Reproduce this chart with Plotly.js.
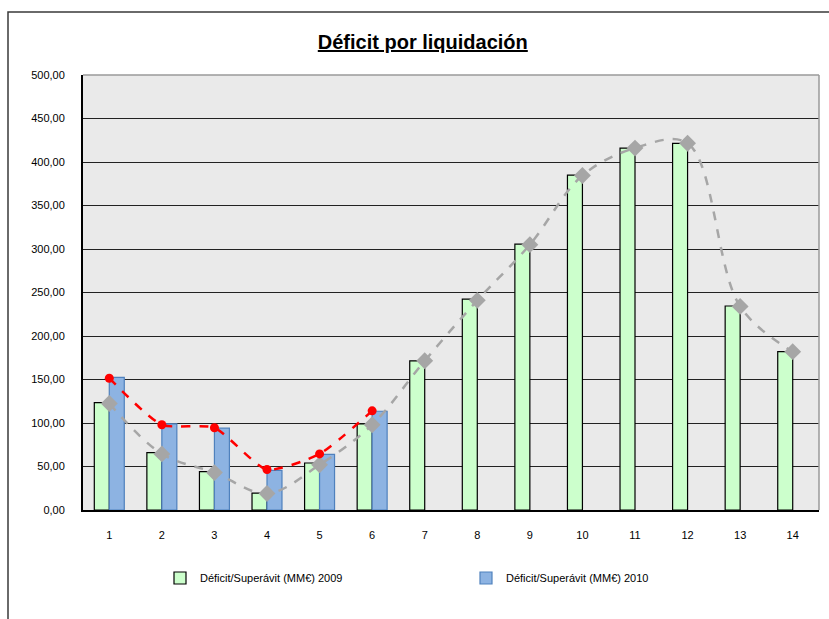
<!DOCTYPE html>
<html>
<head>
<meta charset="utf-8">
<script src="https://cdn.plot.ly/plotly-3.0.1.min.js"></script>
<style>html,body{margin:0;padding:0;background:#fff;}</style>
</head>
<body>
<div id="chart" style="width:829px;height:619px;"></div>
<script>
const categories = ["1","2","3","4","5","6","7","8","9","10","11","12","13","14"];
const deficit2009 = [123.5, 66, 44, 19.5, 54, 99, 171.5, 242.5, 305.5, 385, 416, 421.5, 234.5, 182];
const deficit2010 = [152.5, 99, 94, 45.5, 64, 113.5];
const line2009 = [122.5, 64.5, 43, 19, 52, 98, 171.5, 241, 305, 384.5, 416, 421.5, 234, 182];
const line2010 = [151.5, 98, 94.5, 46.5, 64.5, 114];
const yTicks = [0, 50, 100, 150, 200, 250, 300, 350, 400, 450, 500];
const seriesNames = ["Déficit/Superávit (MM€) 2009", "Déficit/Superávit (MM€) 2010"];
const titleText = "Déficit por liquidación";

const font = "Liberation Sans, Arial, sans-serif";

const traces = [
  {
    type: "bar", name: seriesNames[0], x: categories, y: deficit2009,
    marker: {color: "#CCFFCC", line: {color: "#000000", width: 1.2}},
    hoverinfo: "y"
  },
  {
    type: "bar", name: seriesNames[1], x: categories.slice(0, deficit2010.length), y: deficit2010,
    marker: {color: "#8DB3E2", line: {color: "#4F81BD", width: 1.2}},
    hoverinfo: "y"
  },
  {
    type: "scatter", mode: "lines+markers", x: categories, y: line2009, showlegend: false,
    line: {color: "#A6A6A6", width: 2.5, dash: "dash", shape: "spline", smoothing: 1},
    marker: {symbol: "diamond", size: 13, color: "#A6A6A6"}
  },
  {
    type: "scatter", mode: "lines+markers", x: categories.slice(0, line2010.length), y: line2010, showlegend: false,
    line: {color: "#FF0000", width: 2.5, dash: "dash", shape: "spline", smoothing: 0.6},
    marker: {symbol: "circle", size: 9, color: "#FF0000"}
  }
];

const layout = {
  width: 829, height: 619,
  margin: {l: 83, r: 10, t: 75, b: 109},
  paper_bgcolor: "#FFFFFF",
  plot_bgcolor: "#EAEAEA",
  font: {family: font, size: 11, color: "#000000"},
  separators: ",.",
  barmode: "group",
  bargap: 0.43,
  bargroupgap: 0,
  title: {
    text: "<b>" + titleText + "</b>",
    font: {family: font, size: 20, color: "#000000", lineposition: "under"},
    x: 0.51, xanchor: "center", xref: "container",
    y: 1 - 42/619, yanchor: "middle", yref: "container"
  },
  xaxis: {
    type: "category",
    range: [-0.5, categories.length - 0.5],
    autorange: false,
    showgrid: false,
    showline: true, linecolor: "#000000", linewidth: 2,
    ticks: "", ticklabelstandoff: 14,
    tickfont: {family: font, size: 11, color: "#000000"},
    zeroline: false, fixedrange: true
  },
  yaxis: {
    range: [0, 500],
    tickvals: yTicks,
    tickformat: ".2f",
    showgrid: true, gridcolor: "#222222", gridwidth: 1.3,
    showline: true, linecolor: "#000000", linewidth: 2,
    ticks: "", ticklabelstandoff: 14,
    tickfont: {family: font, size: 11, color: "#000000"},
    zeroline: false, fixedrange: true
  },
  legend: {
    orientation: "h",
    x: (160 - 83) / 736, xanchor: "left",
    y: (510 - 578) / 435, yanchor: "middle",
    entrywidth: 261, entrywidthmode: "pixels",
    font: {family: font, size: 11, color: "#000000"},
    bgcolor: "rgba(0,0,0,0)",
    itemclick: false, itemdoubleclick: false
  },
  shapes: [
    {type: "rect", xref: "paper", yref: "paper",
     x0: (8 - 83) / 736, x1: (840 - 83) / 736,
     y0: (510 - 640) / 435, y1: (510 - 12) / 435,
     line: {color: "#3A3A3A", width: 1.5}, fillcolor: "rgba(0,0,0,0)", layer: "below"},
    {type: "line", xref: "paper", yref: "paper", x0: 0, x1: 1, y0: 1, y1: 1,
     line: {color: "#9A9A9A", width: 1.5}},
    {type: "line", xref: "paper", yref: "paper", x0: 1, x1: 1, y0: 0, y1: 1,
     line: {color: "#9A9A9A", width: 1.5}}
  ]
};

Plotly.newPlot("chart", traces, layout, {displayModeBar: false, responsive: false});
</script>
</body>
</html>
